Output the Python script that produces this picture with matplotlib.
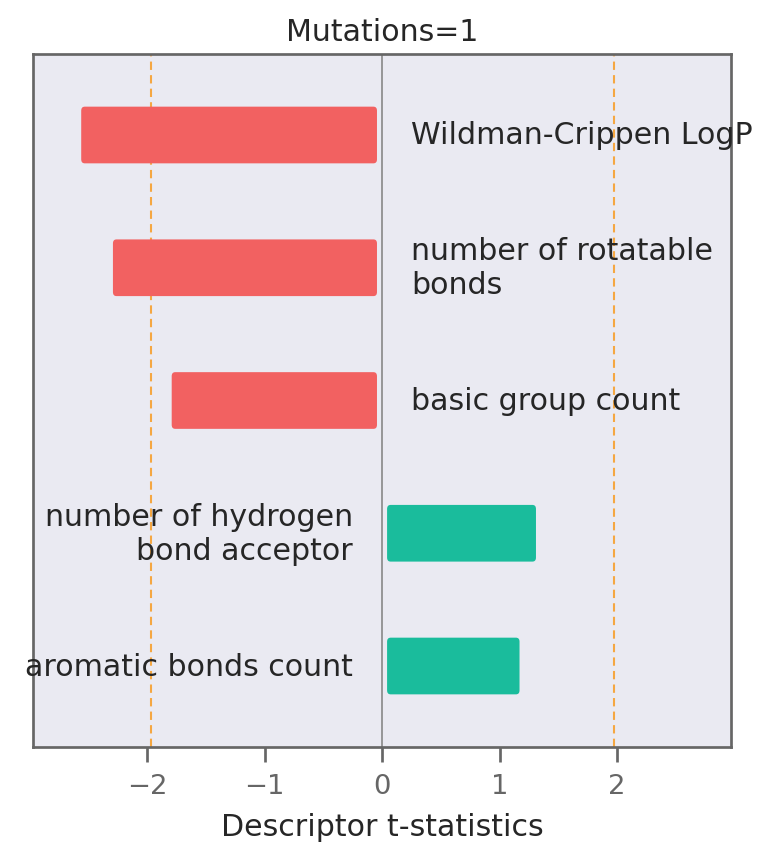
import textwrap
import numpy as np
import matplotlib.pyplot as plt
from matplotlib.patches import FancyBboxPatch

# descriptor t-statistics (top to bottom)
descriptors = ['Wildman-Crippen LogP', 'number of rotatable bonds', 'basic group count',
               'number of hydrogen bond acceptor', 'aromatic bonds count']
t_stats = [-2.56, -2.29, -1.79, 1.31, 1.17]
t_crit = 1.97
title = 'Mutations=1'

red = '#f26161'
green = '#1abc9c'

fig = plt.figure(figsize=(770 / 150, 857 / 150), dpi=150)
ax = fig.add_axes([0.0429, 0.1272, 0.9065, 0.8086])
ax.set_facecolor('#eaeaf2')

y = np.arange(len(descriptors))[::-1]
gap = 0.043
height = 0.427
for yi, t, name in zip(y, t_stats, descriptors):
    x0 = t if t < 0 else gap
    w = (-gap - t) if t < 0 else (t - gap)
    patch = FancyBboxPatch((x0, yi - height / 2), w, height,
                           boxstyle='round,pad=0,rounding_size=0.03',
                           facecolor=red if t < 0 else green, edgecolor='none', zorder=3)
    ax.add_patch(patch)
    label = textwrap.fill(name, 20)
    if t < 0:
        ax.text(0.25, yi, label, ha='left', va='center', fontsize=14.4,
                color='#262626', zorder=5, clip_on=False)
    else:
        ax.text(-0.25, yi, label, ha='right', va='center', fontsize=14.4,
                color='#262626', zorder=5, clip_on=False)

ax.axvline(0, color='#888888', lw=0.8, zorder=2)
for c in (-t_crit, t_crit):
    ax.axvline(c, color='#f5a742', lw=1.0, ls=(0, (4, 2.5)), zorder=1)

ax.set_xlim(-(t_crit + 1), t_crit + 1)
ax.set_ylim(-0.61, 4.61)
ax.set_yticks([])
ax.set_xticks([-2, -1, 0, 1, 2])
ax.set_xticklabels(['\u22122', '\u22121', '0', '1', '2'])
ax.tick_params(axis='x', length=7, width=1.3, color='#666666', labelcolor='#666666',
               labelsize=13.2, pad=5.5)
for s in ax.spines.values():
    s.set_color('#666666')
    s.set_linewidth(1.3)
ax.set_xlabel('Descriptor t-statistics', fontsize=14.4, color='#262626', labelpad=6)
ax.set_title(title, fontsize=14.4, color='#262626', pad=6.5)

fig.savefig('out.png', dpi=150)
